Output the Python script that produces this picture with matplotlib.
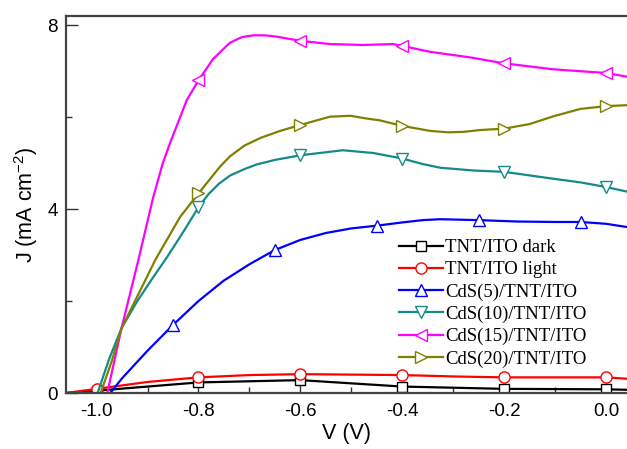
import numpy as np
import matplotlib
matplotlib.use("Agg")
import matplotlib.pyplot as plt
from matplotlib.ticker import MultipleLocator, FormatStrFormatter

plt.rcParams['font.family'] = ['Liberation Sans', 'DejaVu Sans']
plt.rcParams['axes.unicode_minus'] = False
plt.rcParams['mathtext.default'] = 'regular'

# ---- data (V in volts, J in mA cm^-2) ----
dark_v = [-1.06, -1.0, -0.8, -0.6, -0.4, -0.2, 0.0, 0.041]
dark_j = [0.0, 0.05, 0.23, 0.28, 0.14, 0.09, 0.08, 0.07]
dark_marks = [-1.0, -0.8, -0.6, -0.4, -0.2, 0.0]

light_v = [-1.06, -1.0, -0.9, -0.8, -0.7, -0.6, -0.5, -0.4, -0.3, -0.2, -0.1, 0.0, 0.041]
light_j = [0.0, 0.09, 0.24, 0.34, 0.39, 0.41, 0.40, 0.39, 0.36, 0.34, 0.34, 0.34, 0.31]
light_marks = [-1.0, -0.8, -0.6, -0.4, -0.2, 0.0]

cds5_v = [-0.973, -0.95, -0.90, -0.85, -0.80, -0.751, -0.70, -0.65, -0.60, -0.55, -0.50,
          -0.45, -0.40, -0.36, -0.326, -0.25, -0.175, -0.10, -0.05, 0.0, 0.041]
cds5_j = [0.0, 0.32, 0.92, 1.48, 2.0, 2.44, 2.80, 3.11, 3.33, 3.48, 3.58,
          3.64, 3.71, 3.76, 3.78, 3.76, 3.73, 3.72, 3.72, 3.68, 3.61]
cds5_marks = [-0.85, -0.65, -0.45, -0.25, -0.05]

cds10_v = [-0.998, -0.975, -0.951, -0.92, -0.89, -0.862, -0.83, -0.80, -0.78, -0.76,
           -0.738, -0.71, -0.686, -0.65, -0.60, -0.517, -0.457, -0.40, -0.36, -0.326,
           -0.261, -0.20, -0.11, -0.05, 0.0, 0.041]
cds10_j = [0.0, 0.75, 1.41, 2.0, 2.5, 2.95, 3.5, 4.04, 4.33, 4.55,
           4.73, 4.87, 4.97, 5.07, 5.17, 5.28, 5.22, 5.10, 4.98, 4.90,
           4.84, 4.81, 4.67, 4.58, 4.48, 4.38]
cds10_marks = [-0.8, -0.6, -0.4, -0.2, 0.0]

cds15_v = [-0.979, -0.951, -0.918, -0.889, -0.87, -0.856, -0.823, -0.80, -0.771, -0.738,
           -0.715, -0.692, -0.67, -0.646, -0.60, -0.542, -0.477, -0.418, -0.40, -0.345,
           -0.267, -0.20, -0.103, 0.0, 0.041]
cds15_j = [0.0, 1.41, 2.89, 4.25, 5.0, 5.43, 6.37, 6.80, 7.27, 7.62,
           7.74, 7.78, 7.78, 7.75, 7.66, 7.59, 7.57, 7.59, 7.55, 7.42,
           7.30, 7.17, 7.04, 6.96, 6.88]
cds15_marks = [-0.8, -0.6, -0.4, -0.2, 0.0]

cds20_v = [-0.992, -0.97, -0.951, -0.90, -0.885, -0.836, -0.80, -0.758, -0.738, -0.71,
           -0.678, -0.64, -0.60, -0.542, -0.502, -0.47, -0.444, -0.40, -0.345, -0.31,
           -0.28, -0.247, -0.20, -0.15, -0.103, -0.05, 0.0, 0.041]
cds20_j = [0.0, 0.7, 1.41, 2.55, 2.89, 3.83, 4.34, 4.92, 5.15, 5.38,
           5.55, 5.70, 5.83, 6.01, 6.03, 5.97, 5.93, 5.81, 5.70, 5.67,
           5.68, 5.72, 5.75, 5.85, 6.02, 6.18, 6.24, 6.26]
cds20_marks = [-0.8, -0.6, -0.4, -0.2, 0.0]

series = [
    ("TNT/ITO dark", dark_v, dark_j, dark_marks, "black", "s", 7),
    ("TNT/ITO light", light_v, light_j, light_marks, "red", "o", 8),
    ("CdS(5)/TNT/ITO", cds5_v, cds5_j, cds5_marks, "blue", "^", 9),
    ("CdS(10)/TNT/ITO", cds10_v, cds10_j, cds10_marks, "#168a8a", "v", 9),
    ("CdS(15)/TNT/ITO", cds15_v, cds15_j, cds15_marks, "#ff00ff", "<", 9),
    ("CdS(20)/TNT/ITO", cds20_v, cds20_j, cds20_marks, "#808000", ">", 9),
]

fig = plt.figure(figsize=(6.27, 4.49), dpi=100)
ax = fig.add_axes([66 / 627, 1 - 393 / 449, 1 - 66 / 627, (393 - 16) / 449])

for label, v, j, marks, color, mk, ms in series:
    idx = [int(np.argmin(np.abs(np.array(v) - m))) for m in marks]
    ax.plot(v, j, color=color, lw=1.6, marker=mk, ms=ms, mfc='white',
            mec=color, mew=1.0, markevery=idx, label=label, clip_on=True)

ax.set_xlim(-1.06, 0.041)
ax.set_ylim(0, 8.2)

ax.xaxis.set_major_locator(MultipleLocator(0.2))
ax.xaxis.set_minor_locator(MultipleLocator(0.1))
ax.xaxis.set_major_formatter(FormatStrFormatter('%.1f'))
ax.yaxis.set_major_locator(MultipleLocator(4))
ax.yaxis.set_minor_locator(MultipleLocator(2))

ax.tick_params(axis='x', which='major', direction='in', length=7.5, width=1.0,
               labelsize=13.5, pad=7, color='#333333', top=False)
ax.tick_params(axis='x', which='minor', direction='in', length=4.5, width=1.0,
               color='#333333', top=False)
ax.tick_params(axis='y', which='major', direction='in', length=8.5, width=1.0,
               labelsize=13.5, pad=6, color='#333333', right=False)
ax.tick_params(axis='y', which='minor', direction='in', length=4.5, width=1.0,
               color='#333333', right=False)

for side in ['left', 'top', 'bottom']:
    ax.spines[side].set_color('#444444')
    ax.spines[side].set_linewidth(1.6)
ax.spines['right'].set_visible(False)

ax.set_xlabel('V (V)', fontsize=15.5, labelpad=2)
ax.set_ylabel('J (mA cm$^{-2}$)', fontsize=15.5, labelpad=5)

leg = ax.legend(loc='upper left', bbox_to_anchor=((399 - 66) / 561, (393 - 239) / 377),
                frameon=False, prop={'family': 'Liberation Serif', 'size': 13.5},
                handlelength=2.35, handletextpad=0.1, labelspacing=0.27,
                borderpad=0, borderaxespad=0)

fig.savefig('out.png', dpi=100)
